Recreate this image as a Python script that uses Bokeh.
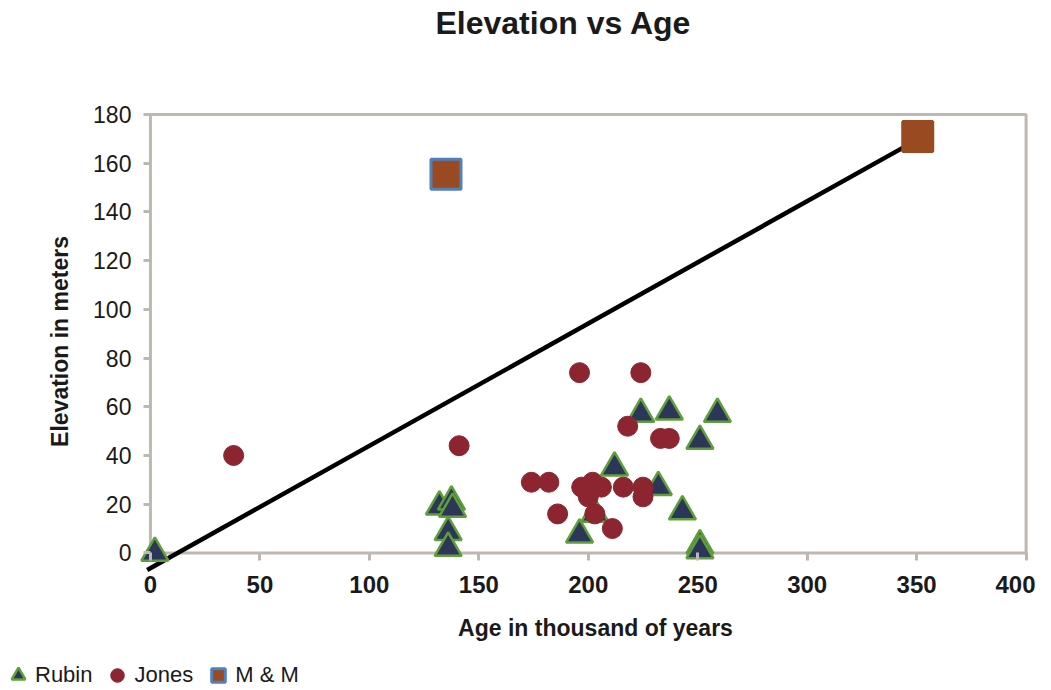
import math
from bokeh.plotting import figure
from bokeh.models import (Range1d, FixedTicker, Label, Legend, LegendItem,
                          ColumnDataSource)
from bokeh.embed import file_html
from bokeh.resources import INLINE

# ---------------- data ----------------
rubin_age = [2, 132, 137.5, 138, 136, 136, 196, 203, 212, 232, 224, 237, 259, 251, 243, 251, 251]
rubin_elev = [0, 19, 21, 18, 8.5, 2, 7.5, 16, 35, 27, 57, 58, 57, 46, 17, 3, 1]

jones_age = [38, 141, 196, 224, 218, 233, 237, 174, 182, 197, 202, 206, 200, 216, 225, 225, 186, 203, 211]
jones_elev = [40, 44, 74, 74, 52, 47, 47, 29, 29, 27, 29, 27, 23, 27, 27, 23, 16, 16, 10]

mm_age = [135, 350.5]
mm_elev = [155.5, 171]
mm_outline = ["#4f81bd", "#9a4a20"]

trend_age = [-1.5, 351]
trend_elev = [-7, 170]

x_ticks = [0, 50, 100, 150, 200, 250, 300, 350, 400]
y_ticks = [0, 20, 40, 60, 80, 100, 120, 140, 160, 180]
x_min, x_max = 0, 400
y_min, y_max = 0, 180

FONT = "Liberation Sans"
AXIS_GRAY = "#bfb8b0"
TXT = "#1a1a1a"

# frame covers the whole canvas; axes are pinned at x=0 / y=0
p = figure(width=1035, height=690, output_backend="svg", toolbar_location=None,
           title_location=None,
           x_range=Range1d(-68.5, 404.3), y_range=Range1d(-56.5, 226.8),
           min_border_left=0, min_border_right=0, min_border_top=0,
           min_border_bottom=0)
p.outline_line_color = None
p.xgrid.visible = False
p.ygrid.visible = False
p.background_fill_color = "white"
p.border_fill_color = "white"

# plot-area box (axis lines + top/right border)
p.quad(left=[x_min], right=[x_max], bottom=[y_min], top=[y_max],
       fill_color=None, line_color=AXIS_GRAY, line_width=3)

# axes
xa = p.xaxis[0]
xa.fixed_location = y_min
xa.ticker = FixedTicker(ticks=x_ticks)
xa.axis_line_color = None
xa.major_tick_line_color = AXIS_GRAY
xa.major_tick_line_width = 3
xa.major_tick_in = 0
xa.major_tick_out = 8
xa.minor_tick_in = 0
xa.minor_tick_out = 0
xa.minor_tick_line_color = None
xa.major_label_standoff = 15
xa.major_label_text_font = FONT
xa.major_label_text_font_size = "24px"
xa.major_label_text_font_style = "bold"
xa.major_label_text_color = TXT

ya = p.yaxis[0]
ya.fixed_location = x_min
ya.ticker = FixedTicker(ticks=y_ticks)
ya.axis_line_color = None
ya.major_tick_line_color = AXIS_GRAY
ya.major_tick_line_width = 3
ya.major_tick_in = 0
ya.major_tick_out = 7
ya.minor_tick_in = 0
ya.minor_tick_out = 0
ya.minor_tick_line_color = None
ya.major_label_standoff = 12
ya.major_label_text_font = FONT
ya.major_label_text_font_size = "23px"
ya.major_label_text_color = TXT

# trend line
p.line(trend_age, trend_elev, line_color="black", line_width=4.5)

# series
r_rubin = p.scatter(rubin_age, rubin_elev, marker="triangle", size=27,
                    fill_color="#2b3658", line_color="#5f9e3a", line_width=2.5)
r_jones = p.scatter(jones_age, jones_elev, marker="circle", size=20,
                    fill_color="#8c2530", line_color="#8c2530", line_width=1)
mm_src = ColumnDataSource(dict(x=mm_age, y=mm_elev, lc=mm_outline))
r_mm = p.scatter("x", "y", source=mm_src, marker="square", size=30,
                 fill_color="#9a4a20", line_color="lc", line_width=3)

# title and axis titles
p.add_layout(Label(x=188.7, y=217.4, text="Elevation vs Age", text_align="center",
                   text_baseline="middle", text_font=FONT,
                   text_font_size="32px", text_font_style="bold", text_color=TXT))
p.add_layout(Label(x=203.3, y=-31.0, text="Age in thousand of years",
                   text_align="center", text_baseline="middle", text_font=FONT,
                   text_font_size="23px", text_font_style="bold", text_color=TXT))
p.add_layout(Label(x=-41.1, y=86.8, text="Elevation in meters", angle=math.pi / 2,
                   text_align="center", text_baseline="middle", text_font=FONT,
                   text_font_size="23px", text_font_style="bold", text_color=TXT))

# legend
legend = Legend(items=[LegendItem(label="Rubin", renderers=[r_rubin]),
                       LegendItem(label="Jones", renderers=[r_jones]),
                       LegendItem(label="M & M", renderers=[r_mm])],
                orientation="horizontal", location=(1, -2),
                label_text_font=FONT, label_text_font_size="22px",
                label_text_color=TXT, glyph_width=34, glyph_height=34,
                label_standoff=0, spacing=8, padding=0, margin=0,
                border_line_color=None, background_fill_color=None)
p.add_layout(legend, "center")

open("out.html", "w").write(file_html(p, INLINE))
